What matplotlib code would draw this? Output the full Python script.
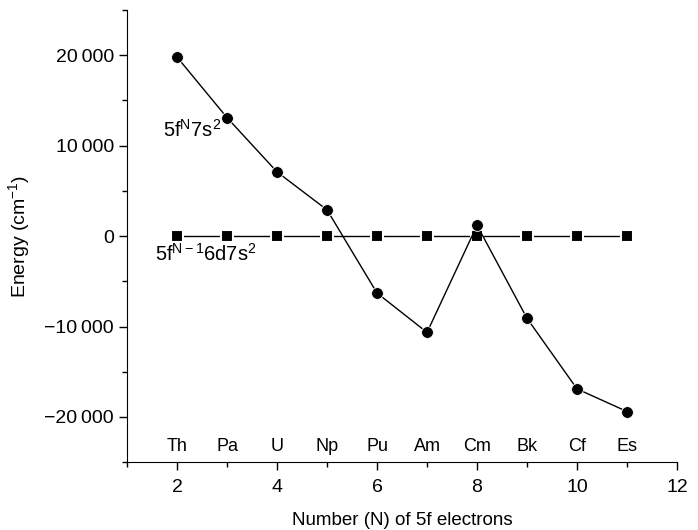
import matplotlib
matplotlib.use('Agg')
import matplotlib.pyplot as plt
from matplotlib.ticker import MultipleLocator, FuncFormatter

plt.rcParams['font.family'] = ['Liberation Sans', 'DejaVu Sans']
plt.rcParams['mathtext.fontset'] = 'custom'
plt.rcParams['mathtext.rm'] = 'Liberation Sans'
plt.rcParams['mathtext.it'] = 'Liberation Sans'
plt.rcParams['mathtext.default'] = 'regular'

n_5f = [2, 3, 4, 5, 6, 7, 8, 9, 10, 11]
elements = ['Th', 'Pa', 'U', 'Np', 'Pu', 'Am', 'Cm', 'Bk', 'Cf', 'Es']
e_7s2 = [19800, 13100, 7100, 2900, -6300, -10650, 1200, -9100, -16900, -19400]
e_6d7s2 = [0, 0, 0, 0, 0, 0, 0, 0, 0, 0]


def fmt_energy(v, pos):
    s = f'{abs(int(round(v))):,}'.replace(',', '\u2009')
    return ('\u2212' if v < 0 else '') + s


fig = plt.figure(figsize=(6.98, 5.30), dpi=100)
ax = fig.add_axes([0.182, 0.128, 0.788, 0.853])

ax.plot(n_5f, e_6d7s2, color='black', lw=1.0, marker='s', ms=8.5,
        mfc='black', mec='white', mew=1.5, zorder=3)
ax.plot(n_5f, e_7s2, color='black', lw=1.0, marker='o', ms=8.5,
        mfc='black', mec='white', mew=0.6, zorder=4)

for x, el in zip(n_5f, elements):
    ax.text(x, -23300, el, ha='center', va='center', fontsize=13)

ax.text(1.72, 11700, '5f$^{N}$7s$^{2}$', ha='left', va='center', fontsize=14.5)
ax.text(1.55, -2000, '5f$^{N\u22121}$6d7s$^{2}$', ha='left', va='center', fontsize=14.5)

ax.set_xlim(1, 12)
ax.set_ylim(-25000, 25000)
ax.xaxis.set_major_locator(MultipleLocator(2))
ax.xaxis.set_minor_locator(MultipleLocator(1))
ax.yaxis.set_major_locator(MultipleLocator(10000))
ax.yaxis.set_minor_locator(MultipleLocator(5000))
ax.yaxis.set_major_formatter(FuncFormatter(fmt_energy))

for side in ['top', 'right']:
    ax.spines[side].set_visible(False)
ax.tick_params(which='major', direction='out', length=6, width=1, labelsize=14)
ax.tick_params(axis='x', which='major', pad=6)
ax.tick_params(which='minor', direction='out', length=3.8, width=1)

ax.set_xlabel('Number (N) of 5f electrons', fontsize=13.5, labelpad=12)
ax.set_ylabel('Energy (cm$^{\u22121}$)', fontsize=14, labelpad=9)

plt.savefig('out.png', dpi=100)
